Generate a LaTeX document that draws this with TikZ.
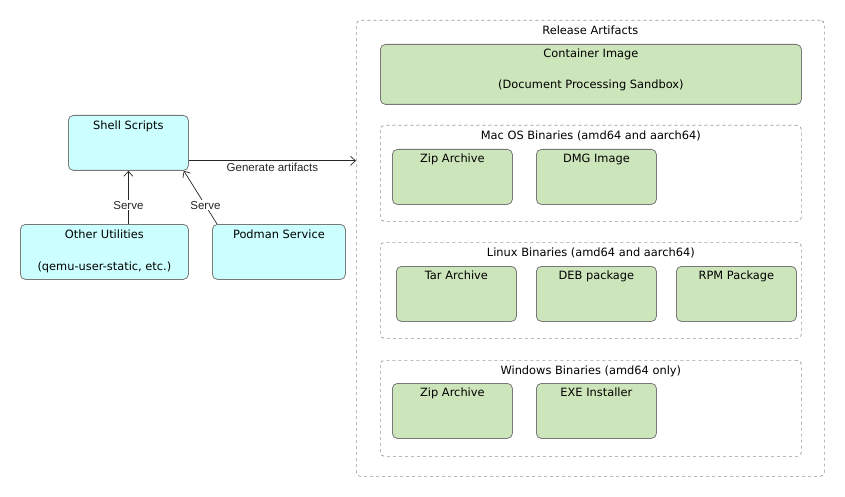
\documentclass[tikz,border=0pt]{standalone}
\usepackage{fontspec}
\setmainfont{DejaVu Sans}
\newfontfamily\edgefont{Liberation Sans}
\usetikzlibrary{arrows.meta}
\definecolor{boxcyan}{RGB}{204,255,255}
\definecolor{boxgreen}{RGB}{205,229,187}
\definecolor{boxline}{RGB}{120,120,120}
\definecolor{grpline}{RGB}{150,150,150}
\begin{document}
\begin{tikzpicture}[x=1pt,y=-1pt]
	\tikzstyle{every node}=[font=\fontsize{11.4}{13}\selectfont]
	\tikzstyle{box}=[draw=boxline,line width=0.8pt,rounded corners=5pt,anchor=north west,inner sep=0pt,minimum height=55pt]
	\tikzstyle{tool}=[box,fill=boxcyan]
	\tikzstyle{artifact}=[box,fill=boxgreen,minimum width=120pt]
	\tikzstyle{group}=[draw=grpline,dashed,line width=0.7pt,rounded corners=4pt,anchor=north west,inner sep=0pt,minimum width=421pt,minimum height=96pt]
	\tikzstyle{top}=[anchor=north,inner sep=5pt]
	\tikzstyle{bottom}=[anchor=south,inner sep=7pt]
	\tikzstyle{link}=[-{Straight Barb[length=5pt,width=9pt]},line width=0.7pt,black!85]
	\tikzstyle{edgelabel}=[font=\edgefont\fontsize{11.5}{13}\selectfont,fill=white,inner sep=1pt]
	\useasboundingbox (0,0) rectangle (845,497);
	% left side
	\node[tool,minimum width=120pt,label={[top,inner sep=6pt]north:Shell Scripts}] (shell) at (68,115) {};
	\node[tool,minimum width=168pt,label={[top,inner sep=6pt]north:Other Utilities},label={[bottom]south:(qemu-user-static, etc.)}] (other) at (20,224) {};
	\node[tool,minimum width=133pt,label={[top,inner sep=6pt]north:Podman Service}] (podman) at (212,224) {};
	% release artifacts
	\node[group,minimum width=468pt,minimum height=456pt,label={[top,inner sep=6pt]north:Release Artifacts}] (release) at (356,20) {};
	\node[box,fill=boxgreen,minimum width=421pt,minimum height=60pt,label={[top]north:Container Image},label={[bottom,inner sep=14pt]south:(Document Processing Sandbox)}] (container) at (380,44) {};
	\node[group,label={[top,inner sep=6pt]north:Mac OS Binaries (amd64 and aarch64)}] (mac) at (380,125) {};
	\node[artifact,label={[top]north:Zip Archive}] (maczip) at (392,149) {};
	\node[artifact,label={[top]north:DMG Image}] (macdmg) at (536,149) {};
	\node[group,label={[top,inner sep=6pt]north:Linux Binaries (amd64 and aarch64)}] (linux) at (380,242) {};
	\node[artifact,label={[top]north:Tar Archive}] (lintar) at (396,266) {};
	\node[artifact,label={[top]north:DEB package}] (lindeb) at (536,266) {};
	\node[artifact,label={[top]north:RPM Package}] (linrpm) at (676,266) {};
	\node[group,label={[top,inner sep=6pt]north:Windows Binaries (amd64 only)}] (win) at (380,360) {};
	\node[artifact,label={[top]north:Zip Archive}] (winzip) at (392,383) {};
	\node[artifact,label={[top]north:EXE Installer}] (winexe) at (536,383) {};
	% connectors
	\coordinate (gen) at ([yshift=10pt]shell.south east);
	\draw[link] (gen) -- node[edgelabel,below=1pt,fill=none] {Generate artifacts} (gen -| release.west);
	\draw[link] (other.north -| shell.south) -- node[edgelabel,pos=0.35] {Serve} (shell.south);
	\draw[link] ([xshift=5pt]podman.north west) -- node[edgelabel,pos=0.35] {Serve} ([xshift=-5pt]shell.south east);
\end{tikzpicture}
\end{document}
